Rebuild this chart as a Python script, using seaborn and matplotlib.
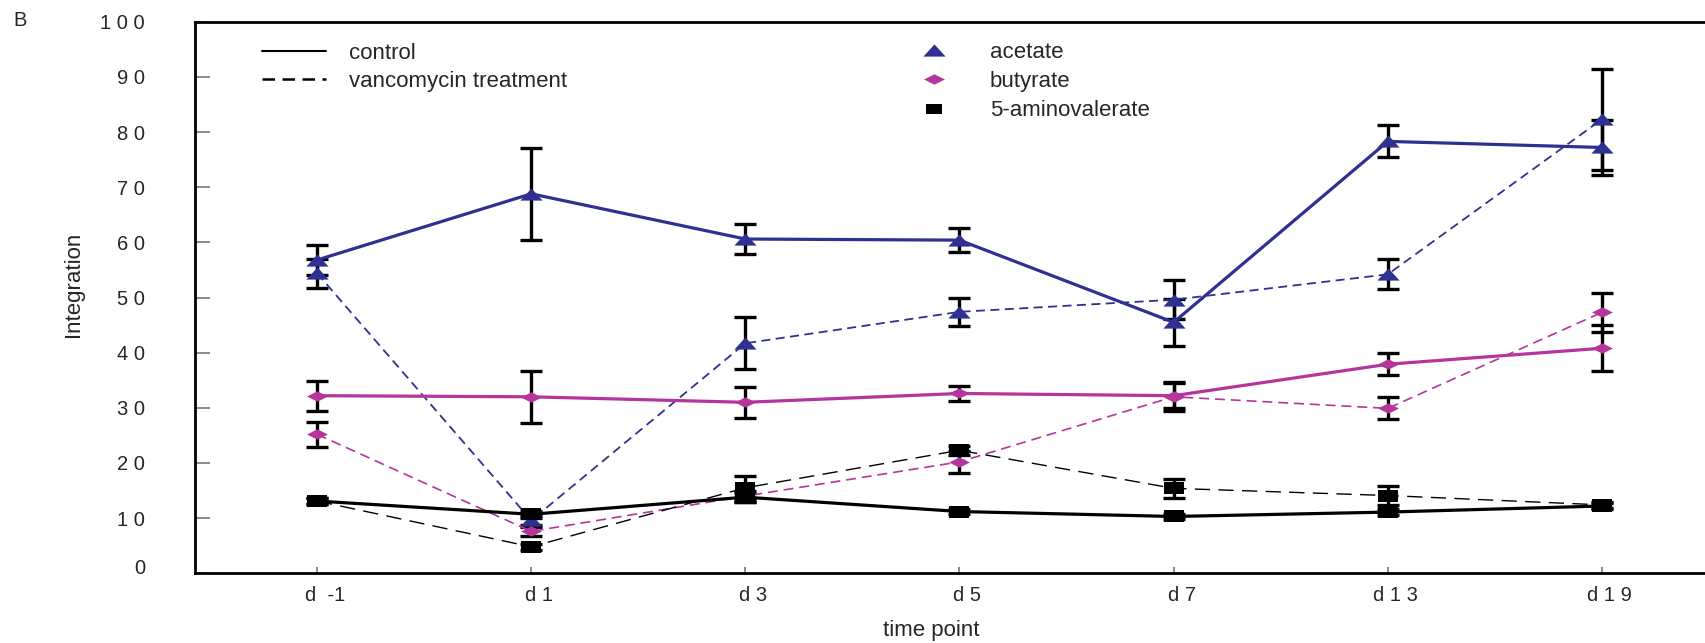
import numpy as np
import pandas as pd
import matplotlib
matplotlib.use("Agg")
import matplotlib.pyplot as plt
import matplotlib.transforms as mtransforms
from matplotlib.path import Path
from matplotlib.lines import Line2D
import seaborn as sns

# ---------------- data ----------------
timepoints = ["d  -1", "d 1", "d 3", "d 5", "d 7", "d 1 3", "d 1 9"]

acetate_ctrl = [56.8, 68.8, 60.6, 60.4, 45.5, 78.3, 77.2]
acetate_ctrl_err = [2.7, 8.3, 2.7, 2.2, 4.3, 2.9, 5.0]
acetate_vanc = [54.4, 9.6, 41.7, 47.4, 49.6, 54.2, 82.3]
acetate_vanc_err = [2.6, 0.8, 4.7, 2.6, 3.5, 2.7, 9.1]

butyrate_ctrl = [32.2, 32.0, 31.0, 32.6, 32.2, 37.9, 40.8]
butyrate_ctrl_err = [2.7, 4.7, 2.8, 1.4, 2.3, 2.0, 4.2]
butyrate_vanc = [25.2, 7.6, 14.0, 20.2, 32.0, 29.9, 47.3]
butyrate_vanc_err = [2.3, 0.8, 1.0, 2.0, 2.6, 2.0, 3.6]

amino_ctrl = [13.1, 10.7, 13.8, 11.2, 10.3, 11.1, 12.2]
amino_ctrl_err = [0.6, 0.6, 0.8, 0.4, 0.4, 0.6, 0.6]
amino_vanc = [13.1, 4.8, 15.5, 22.3, 15.4, 14.1, 12.4]
amino_vanc_err = [0.6, 0.5, 2.2, 0.8, 1.7, 1.8, 0.6]

yticks = [0, 10, 20, 30, 40, 50, 60, 70, 80, 90, 100]
ytick_labels = ["0", "1 0", "2 0", "3 0", "4 0", "5 0", "6 0", "7 0", "8 0", "9 0", "1 0 0"]

# ---------------- style ----------------
sns.set_theme(style="white")
plt.rcParams['font.family'] = ['Liberation Sans', 'DejaVu Sans']

C_ACE = "#2e3192"
C_BUT = "#b5359b"
C_AMI = "#000000"
FS_TICK = 14.5
FS_TXT = 16

tri = Path([(-1, -0.55), (1, -0.55), (0, 0.55), (-1, -0.55)],
           [Path.MOVETO, Path.LINETO, Path.LINETO, Path.CLOSEPOLY])
dia = Path([(-1, 0), (0, 0.5), (1, 0), (0, -0.5), (-1, 0)],
           [Path.MOVETO, Path.LINETO, Path.LINETO, Path.LINETO, Path.CLOSEPOLY])
rect = Path([(-1, -0.62), (1, -0.62), (1, 0.62), (-1, 0.62), (-1, -0.62)],
            [Path.MOVETO, Path.LINETO, Path.LINETO, Path.LINETO, Path.CLOSEPOLY])

fig = plt.figure(figsize=(17.06, 6.43), dpi=100)
L, B = 195 / 1706, (643 - 573.3) / 643
T = (643 - 21.7) / 643
ax = fig.add_axes([L, B, 1.0 - L, T - B])

x = np.arange(len(timepoints))

series = [
    (acetate_ctrl, acetate_ctrl_err, C_ACE, tri, "-", 2.3, 16),
    (acetate_vanc, acetate_vanc_err, C_ACE, tri, (0, (5, 3)), 1.3, 16),
    (butyrate_ctrl, butyrate_ctrl_err, C_BUT, dia, "-", 2.3, 15),
    (butyrate_vanc, butyrate_vanc_err, C_BUT, dia, (0, (6, 3.5)), 1.2, 15),
    (amino_ctrl, amino_ctrl_err, C_AMI, rect, "-", 2.3, 15),
    (amino_vanc, amino_vanc_err, C_AMI, rect, (0, (11, 6)), 1.0, 15),
]

for vals, errs, col, mk, ls, lw, ms in series:
    ax.errorbar(x, vals, yerr=errs, fmt="none", ecolor="black",
                elinewidth=2.4, capsize=8, capthick=2.4, zorder=2)

for vals, errs, col, mk, ls, lw, ms in series:
    df = pd.DataFrame({"x": x, "y": vals})
    sns.lineplot(data=df, x="x", y="y", ax=ax, color=col, linestyle=ls,
                 linewidth=lw, marker=mk, markersize=ms, markeredgewidth=0,
                 markerfacecolor=col, zorder=3, legend=False)

ax.set_xlim(-0.57, 6.486)
ax.set_ylim(0, 100)
ax.set_xticks(x)
ax.set_xticklabels(timepoints, fontsize=FS_TICK)
ax.set_yticks(yticks)
ax.set_yticklabels(ytick_labels, fontsize=FS_TICK)

ax.tick_params(axis="y", direction="in", length=11, width=1.2, color="#777777",
               pad=36, left=True)
ax.tick_params(axis="x", direction="in", length=4, width=1.2, color="#777777",
               pad=9, bottom=True)

shift = mtransforms.ScaledTranslation(8 / 100, 0, fig.dpi_scale_trans)
for lab in ax.get_xticklabels():
    lab.set_transform(lab.get_transform() + shift)
up = mtransforms.ScaledTranslation(0, 7 / 100, fig.dpi_scale_trans)
ylabs = ax.get_yticklabels()
ylabs[0].set_transform(ylabs[0].get_transform() + up)

for s in ["top", "bottom", "left"]:
    ax.spines[s].set_visible(True)
    ax.spines[s].set_color("black")
    ax.spines[s].set_linewidth(2.0)
ax.spines["right"].set_visible(False)

ax.set_xlabel("time point", fontsize=FS_TXT)
ax.set_ylabel("Integration", fontsize=FS_TXT)
ax.xaxis.set_label_coords(0.487, -0.084)
ax.yaxis.set_label_coords(-0.0735, 0.523)

fig.text(20 / 1706, 1 - 21 / 643, "B", fontsize=FS_TICK, ha="center", va="center")

# legends
h1 = [Line2D([], [], color="black", lw=1.5, ls="-"),
      Line2D([], [], color="black", lw=1.8, ls=(0, (5, 3)))]
leg1 = ax.legend(h1, ["control", "vancomycin treatment"], loc="upper left",
                 bbox_to_anchor=(262 / 1706, 1 - 43 / 643),
                 bbox_transform=fig.transFigure, frameon=False, fontsize=FS_TXT,
                 handlelength=2.9, handletextpad=1.0, labelspacing=0.32,
                 borderpad=0, borderaxespad=0)
ax.add_artist(leg1)

h2 = [Line2D([], [], color=C_ACE, ls="none", marker=tri, markersize=16, markeredgewidth=0),
      Line2D([], [], color=C_BUT, ls="none", marker=dia, markersize=15, markeredgewidth=0),
      Line2D([], [], color=C_AMI, ls="none", marker=rect, markersize=11, markeredgewidth=0)]
leg2 = ax.legend(h2, ["acetate", "butyrate", "5-aminovalerate"], loc="upper left",
                 bbox_to_anchor=(912 / 1706, 1 - 42 / 643),
                 bbox_transform=fig.transFigure, frameon=False, fontsize=FS_TXT,
                 handlelength=2.0, handletextpad=1.5, labelspacing=0.37,
                 borderpad=0, borderaxespad=0)

fig.savefig("out.png", dpi=100)
